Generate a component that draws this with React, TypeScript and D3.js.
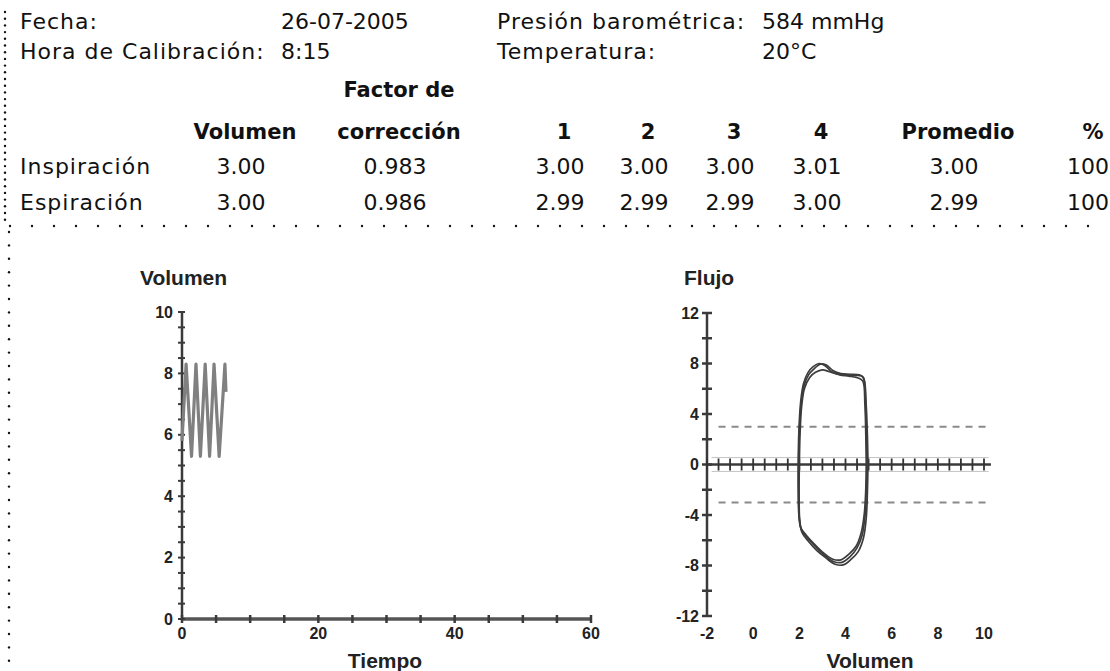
import React, { useEffect, useRef } from 'react';
import * as d3 from 'd3';

// header info
const infoLabels = ['Fecha:', 'Hora de Calibración:'];
const infoValues = ['26-07-2005', '8:15'];
const infoLabels2 = ['Presión barométrica:', 'Temperatura:'];
const infoValues2 = ['584 mmHg', '20°C'];

// calibration table
const tableHeaders = ['Volumen', 'corrección', '1', '2', '3', '4', 'Promedio', '%'];
const rowLabels = ['Inspiración', 'Espiración'];
const inspValues = ['3.00', '0.983', '3.00', '3.00', '3.00', '3.01', '3.00', '100'];
const espValues = ['3.00', '0.986', '2.99', '2.99', '2.99', '3.00', '2.99', '100'];

// volume-time trace
const traceTime = [0, 0.6, 1.4, 2.05, 2.7, 3.4, 4.05, 4.7, 5.45, 6.3, 6.45];
const traceVolume = [5.8, 8.3, 5.3, 8.3, 5.3, 8.3, 5.3, 8.3, 5.3, 8.3, 7.4];
const timeTicks = [0, 20, 40, 60];
const volTicks = [0, 2, 4, 6, 8, 10];

// flow-volume loops [volume, flow]
const loopA: [number, number][] = [
  [1.97, 0], [2.0, 2.5], [2.08, 4.8], [2.2, 6.2], [2.4, 7.1], [2.65, 7.6], [2.9, 7.95], [3.15, 7.9],
  [3.45, 7.45], [3.8, 7.2], [4.2, 7.15], [4.6, 7.1], [4.78, 6.9], [4.86, 5], [4.9, 2.5], [4.92, 0],
  [4.9, -2], [4.85, -4], [4.72, -5.6], [4.5, -6.6], [4.2, -7.3], [3.85, -7.75], [3.5, -7.7],
  [3.1, -7.2], [2.7, -6.5], [2.35, -5.8], [2.1, -5.2], [2.0, -4.2], [1.97, -2], [1.97, 0],
];
const loopB: [number, number][] = [
  [2.0, 0], [2.03, 2.4], [2.1, 4.6], [2.22, 6.0], [2.45, 6.9], [2.7, 7.3], [3.0, 7.5], [3.3, 7.35],
  [3.6, 7.2], [4.0, 7.1], [4.4, 7.05], [4.7, 7.0], [4.82, 6.6], [4.9, 4.6], [4.95, 2.2], [4.97, 0],
  [4.95, -2.1], [4.9, -4.2], [4.78, -5.8], [4.55, -6.9], [4.25, -7.5], [3.9, -7.95], [3.55, -7.9],
  [3.15, -7.4], [2.75, -6.8], [2.4, -6.1], [2.12, -5.4], [2.02, -4.5], [1.99, -2.2], [2.0, 0],
];
const loopC: [number, number][] = [
  [1.95, 0], [1.98, 2.6], [2.06, 5.0], [2.18, 6.4], [2.38, 7.3], [2.6, 7.75], [2.85, 8.0], [3.1, 7.85],
  [3.4, 7.35], [3.75, 7.1], [4.15, 7.0], [4.55, 6.85], [4.75, 6.6], [4.84, 4.8], [4.88, 2.3], [4.9, 0],
  [4.88, -1.9], [4.82, -3.8], [4.68, -5.4], [4.45, -6.5], [4.15, -7.1], [3.8, -7.55], [3.45, -7.5],
  [3.05, -7.0], [2.65, -6.3], [2.3, -5.6], [2.06, -5.0], [1.98, -4.0], [1.95, -2], [1.95, 0],
];
const loops = [loopA, loopB, loopC];
const flowTicks = [-12, -8, -4, 0, 4, 8, 12];
const flowVolTicks = [-2, 0, 2, 4, 6, 8, 10];
const limitFlow = [3, -3];

const App = () => {
  const svgRef = useRef(null);

  useEffect(() => {
    const width = 1110;
    const height = 671;
    const svg = d3.select(svgRef.current);
    svg.selectAll('*').remove();
    svg.attr('width', width).attr('height', height);

    // dotted frame
    const dots = svg.append('g').attr('fill', '#111');
    d3.range(12, 226, 6.7).forEach(y => dots.append('circle').attr('cx', 5).attr('cy', y).attr('r', 1.2));
    d3.range(232, height, 13.4).forEach(y => dots.append('circle').attr('cx', 9).attr('cy', y).attr('r', 1.2));
    d3.range(10, width, 22).forEach(x => dots.append('circle').attr('cx', x).attr('cy', 226).attr('r', 1.2));

    // header
    const head = svg.append('g')
      .style('font-family', '"DejaVu Sans", sans-serif')
      .style('font-size', '22px')
      .attr('fill', '#111');
    const rowsY = [29, 59];
    infoLabels.forEach((t, i) => head.append('text').attr('x', 20).attr('y', rowsY[i]).style('letter-spacing', '1px').text(t));
    infoValues.forEach((t, i) => head.append('text').attr('x', 281).attr('y', rowsY[i]).text(t));
    infoLabels2.forEach((t, i) => head.append('text').attr('x', 497).attr('y', rowsY[i]).style('letter-spacing', '1px').text(t));
    infoValues2.forEach((t, i) => head.append('text').attr('x', 762).attr('y', rowsY[i]).text(t));

    const colX = [245, 399, 564, 648, 734, 821, 958, 1093];
    const hdr = head.append('g').style('font-weight', 'bold').style('font-size', '21px');
    hdr.append('text').attr('x', colX[1]).attr('y', 97).attr('text-anchor', 'middle').text('Factor de');
    tableHeaders.forEach((t, i) => hdr.append('text').attr('x', colX[i]).attr('y', 139)
      .attr('text-anchor', 'middle').text(t));
    [inspValues, espValues].forEach((row, r) => {
      const y = 174 + r * 36;
      head.append('text').attr('x', 20).attr('y', y).style('letter-spacing', '1px').text(rowLabels[r]);
      row.forEach((t, i) => {
        const last = i === row.length - 1;
        head.append('text').attr('x', last ? 1109 : colX[i] - 4).attr('y', y)
          .attr('text-anchor', last ? 'end' : 'middle').text(t);
      });
    });

    const chartFont = '"Liberation Sans", Arial, sans-serif';
    const axisColor = '#3a3a3a';

    // ---- Volume vs time ----
    const x1 = d3.scaleLinear().domain([0, 60]).range([182, 591]);
    const y1 = d3.scaleLinear().domain([0, 10]).range([619, 312]);
    const g1 = svg.append('g').style('font-family', chartFont).style('font-weight', 'bold').attr('fill', '#222');

    g1.append('text').attr('x', 140).attr('y', 285).style('font-size', '21px').text('Volumen');
    g1.append('text').attr('x', 385).attr('y', 668).attr('text-anchor', 'middle').style('font-size', '21px').text('Tiempo');

    g1.append('line').attr('x1', x1(0)).attr('x2', x1(0)).attr('y1', y1(10)).attr('y2', y1(0))
      .attr('stroke', axisColor).attr('stroke-width', 2.5);
    g1.append('line').attr('x1', x1(0)).attr('x2', x1(60)).attr('y1', y1(0)).attr('y2', y1(0))
      .attr('stroke', '#555').attr('stroke-width', 3.5);
    d3.range(0, 10.01, 0.5).forEach(v => g1.append('line')
      .attr('x1', x1(0) - 4).attr('x2', x1(0) + 3).attr('y1', y1(v)).attr('y2', y1(v))
      .attr('stroke', axisColor).attr('stroke-width', 2));
    d3.range(0, 60.01, 5).forEach(t => g1.append('line')
      .attr('x1', x1(t)).attr('x2', x1(t)).attr('y1', y1(0) - 4).attr('y2', y1(0) + 4)
      .attr('stroke', axisColor).attr('stroke-width', 2.5));
    volTicks.forEach(v => g1.append('text').attr('x', x1(0) - 9).attr('y', y1(v) + 5.5)
      .attr('text-anchor', 'end').style('font-size', '16px').text(v));
    timeTicks.forEach(t => g1.append('text').attr('x', x1(t)).attr('y', 639)
      .attr('text-anchor', 'middle').style('font-size', '16px').text(t));

    const trace = d3.line<number>()
      .x((d, i) => x1(traceTime[i]))
      .y(d => y1(d));
    g1.append('path').datum(traceVolume).attr('d', trace).attr('fill', 'none')
      .attr('stroke', '#808080').attr('stroke-width', 3.2).attr('stroke-linejoin', 'round');

    // ---- Flow vs volume ----
    const x2 = d3.scaleLinear().domain([-2, 10]).range([707, 984]);
    const y2 = d3.scaleLinear().domain([-12, 12]).range([616, 313]);
    const g2 = svg.append('g').style('font-family', chartFont).style('font-weight', 'bold').attr('fill', '#222');

    g2.append('text').attr('x', 684).attr('y', 285).style('font-size', '21px').text('Flujo');
    g2.append('text').attr('x', 870).attr('y', 668).attr('text-anchor', 'middle').style('font-size', '21px').text('Volumen');

    limitFlow.forEach(f => g2.append('line').attr('x1', x2(-1.5)).attr('x2', x2(10.1))
      .attr('y1', y2(f)).attr('y2', y2(f)).attr('stroke', '#8a8a8a').attr('stroke-width', 2)
      .attr('stroke-dasharray', '7,6'));
    [0.55, -0.55].forEach(f => g2.append('line').attr('x1', x2(-1.8)).attr('x2', x2(10.2))
      .attr('y1', y2(f)).attr('y2', y2(f)).attr('stroke', '#c4c4c4').attr('stroke-width', 1));

    g2.append('line').attr('x1', x2(-2)).attr('x2', x2(-2)).attr('y1', y2(12)).attr('y2', y2(-12))
      .attr('stroke', axisColor).attr('stroke-width', 2.5);
    g2.append('line').attr('x1', x2(-2)).attr('x2', x2(10.3)).attr('y1', y2(0)).attr('y2', y2(0))
      .attr('stroke', axisColor).attr('stroke-width', 2.5);
    d3.range(-12, 12.01, 2).forEach(f => g2.append('line')
      .attr('x1', x2(-2) - 5).attr('x2', x2(-2) + 5).attr('y1', y2(f)).attr('y2', y2(f))
      .attr('stroke', axisColor).attr('stroke-width', 2.5));
    d3.range(-2, 10.31, 0.5).forEach(v => g2.append('line')
      .attr('x1', x2(v)).attr('x2', x2(v)).attr('y1', y2(0) - 6).attr('y2', y2(0) + 6)
      .attr('stroke', '#333').attr('stroke-width', 1.8));
    flowTicks.forEach(f => g2.append('text').attr('x', x2(-2) - 8).attr('y', y2(f) + 5.5)
      .attr('text-anchor', 'end').style('font-size', '16px').text(f));
    flowVolTicks.forEach(v => g2.append('text').attr('x', x2(v)).attr('y', 639)
      .attr('text-anchor', 'middle').style('font-size', '16px').text(v));

    const loopLine = d3.line<[number, number]>()
      .x(d => x2(d[0]))
      .y(d => y2(d[1]))
      .curve(d3.curveCatmullRom);
    loops.forEach(loop => g2.append('path').datum(loop).attr('d', loopLine).attr('fill', 'none')
      .attr('stroke', '#3c3c3c').attr('stroke-width', 1.7));
  }, []);

  return (
    <svg ref={svgRef} style={{ position: 'absolute', left: 0, top: 0, background: '#fff' }}></svg>
  );
};

export default App;
